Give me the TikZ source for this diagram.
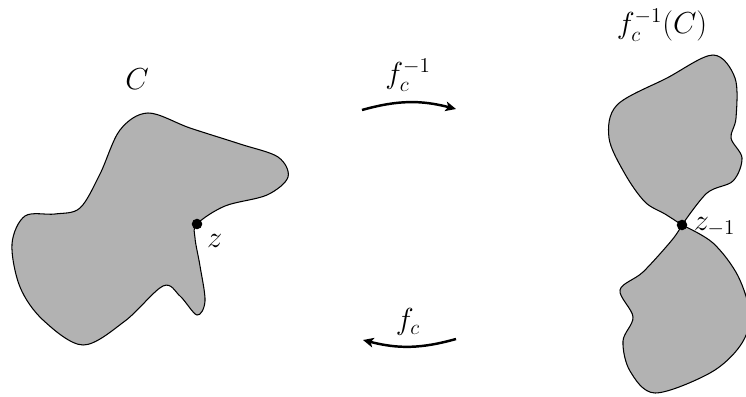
\documentclass[tikz,border=0pt]{standalone}
\usepackage{amsmath,amssymb}
\usepackage{xcolor}
\usepackage{tikz}
\usetikzlibrary{arrows.meta,positioning}
\definecolor{blobgray}{gray}{0.7}

\begin{document}
\begin{tikzpicture}[x=0.02cm,y=0.02cm,font=\LARGE,
  blob/.style={draw,fill=blobgray,line width=0.6pt},
  mapsto/.style={line width=1.4pt,-{Stealth[length=6pt,width=5.5pt,inset=1.5pt]}},
  pt/.style={circle,fill,inner sep=0pt,minimum size=6pt}]
  \useasboundingbox (0,0) rectangle (746,396);
  \clip (0,0) rectangle (746,396);
  % the set C
  \draw[blob] plot[smooth cycle,tension=0.55] coordinates {
    (197,172) (225,190) (267,201) (288,219) (278,239) (240,252)
    (190,268) (148,283) (120,266) (100,222) (80,188) (55,182)
    (25,180) (12,152) (20,109) (43,76) (83,51) (125,75) (163,110)
    (180,100) (197,81) (205,95) (200,130) (195,158)};
  \node[pt] (z) at (197,172) {};
  \node[below right=0pt and 0pt of z] (zlab) {$z$};
  \node (Clab) at (137,317) {$C$};
  % the preimage, two pieces
  \draw[blob] plot[smooth,tension=0.55] coordinates {
    (682,171) (665,182) (645,194) (625,222) (609,258) (617,291)
    (667,318) (713,341) (735,318) (736,278) (731,258) (742,238)
    (733,215) (707,203) (682,171)} -- cycle;
  \draw[blob] plot[smooth,tension=0.55] coordinates {
    (682,171) (713,153) (738,120) (750,80) (740,50) (710,23)
    (655,3) (630,25) (623,55) (633,79) (620,106) (643,124)
    (672,156) (682,171)} -- cycle;
  \node[pt] (zm) at (682,171) {};
  \node[right=0pt of zm,yshift=-1pt] (zmlab) {$z_{-1}$};
  \node (Plab) at (662,371) {$f_c^{-1}(C)$};
  % the two maps
  \coordinate (ta) at (362,286);
  \coordinate (tb) at (456,287);
  \coordinate (ba) at (456,57);
  \coordinate (bb) at (363,56);
  \draw[mapsto] (ta) to[bend left=15] (tb);
  \draw[mapsto] (ba) to[bend left=15] (bb);
  \node (finv) at (408,321) {$f_c^{-1}$};
  \node (fwd) at (408,74) {$f_c$};
\end{tikzpicture}
\end{document}
